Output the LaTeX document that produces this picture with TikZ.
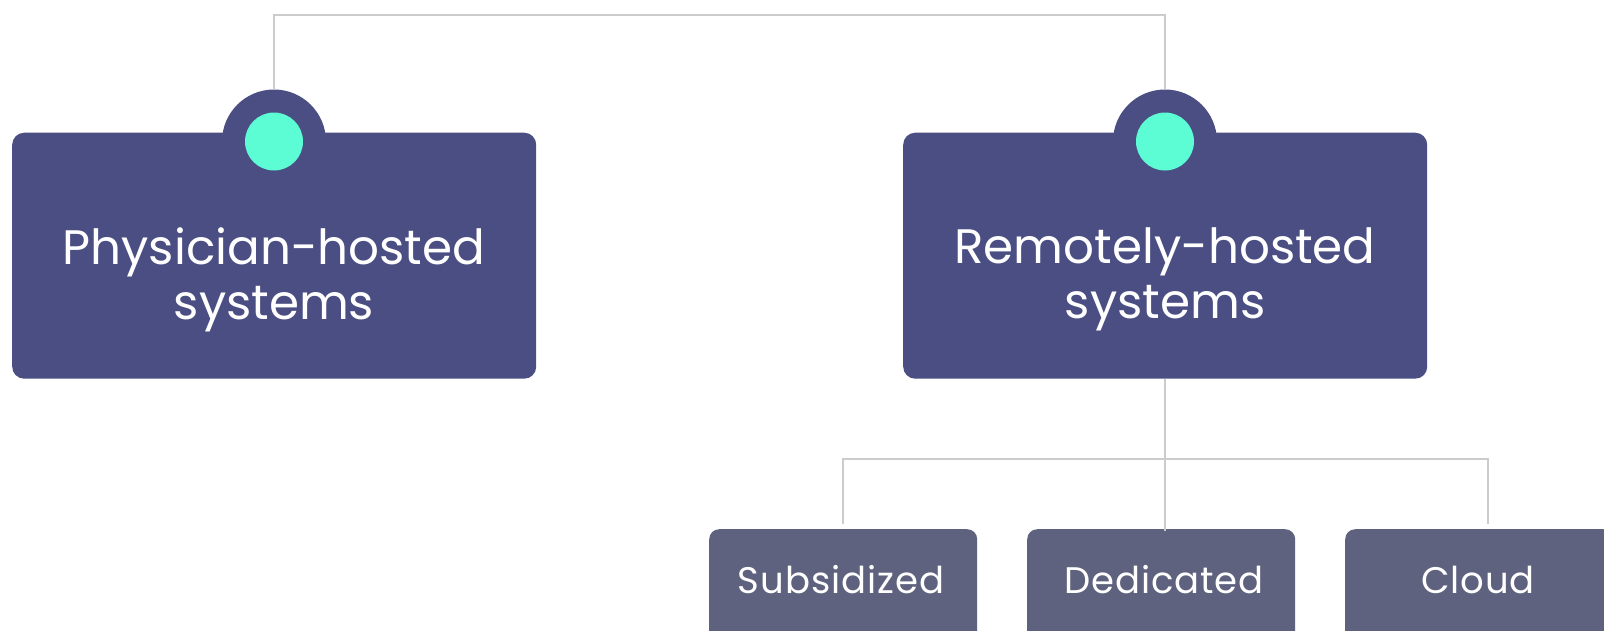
\documentclass[tikz,border=0pt]{standalone}
\usepackage{fontspec}
\setmainfont{Poppins}
\definecolor{boxblue}{HTML}{4A4E83}
\definecolor{subbox}{HTML}{5F627F}
\definecolor{dotgreen}{HTML}{5CFCD5}
\definecolor{linegray}{HTML}{CCCCCC}
\begin{document}
\begin{tikzpicture}[x=1pt,y=-1pt,
  bigbox/.style={fill=boxblue, rounded corners=12pt, minimum width=524pt, minimum height=246pt, inner sep=0pt, anchor=north west},
  smallbox/.style={fill=subbox, rounded corners=10pt, minimum width=268pt, minimum height=130pt, inner sep=0pt, anchor=north west},
  bump/.style={circle, fill=boxblue, minimum size=104pt, inner sep=0pt},
  dot/.style={circle, fill=dotgreen, minimum size=58pt, inner sep=0pt},
  bigtext/.style={text=white, font=\fontsize{48.4}{55}\selectfont, align=center},
  smalltext/.style={text=white, font=\fontsize{37}{42}\selectfont\addfontfeatures{LetterSpace=2.5}, anchor=base},
  conn/.style={draw=linegray, line width=2pt}
]
\useasboundingbox (0,0) rectangle (1604,630);
% bumps
\node[bump] (bumpL) at (274,141.5) {};
\node[bump] (bumpR) at (1165,141.5) {};
\node[bigbox] (phys) at (12,132.5) {};
\node[bigbox] (remote) at (903,132.5) {};
\node[dot] (dotL) at (bumpL.center) {};
\node[dot] (dotR) at (bumpR.center) {};
\node[bigtext] (physT) at (274,279.5) {Physician-hosted\\systems};
\node[bigtext] (remoteT) at (1165,279.5) {Remotely-hosted\\systems};
% small boxes
\node[smallbox] (sub) at (709,529) {};
\node[smallbox] (ded) at (1027,529) {};
\node[smallbox] (cloud) at (1345,529) {};
\node[smalltext] (subT) at (841,593) {Subsidized};
\node[smalltext] (dedT) at (1164,593) {Dedicated};
\node[smalltext] (cloudT) at (1478,593) {Cloud};
% connectors
\coordinate (top) at (0,15);
\coordinate (bar) at (0,459);
\draw[conn] (bumpL.north) -- (bumpL.north |- top) -- (bumpR.north |- top) -- (bumpR.north);
\draw[conn] (remote.south -| bumpR.center) -- ([yshift=-2pt]ded.north -| bumpR.center);
\coordinate (dropL) at (843,524);
\coordinate (dropR) at (1488,524);
\draw[conn] (dropL) -- (dropL |- bar) -- (dropR |- bar) -- (dropR);
\end{tikzpicture}
\end{document}
